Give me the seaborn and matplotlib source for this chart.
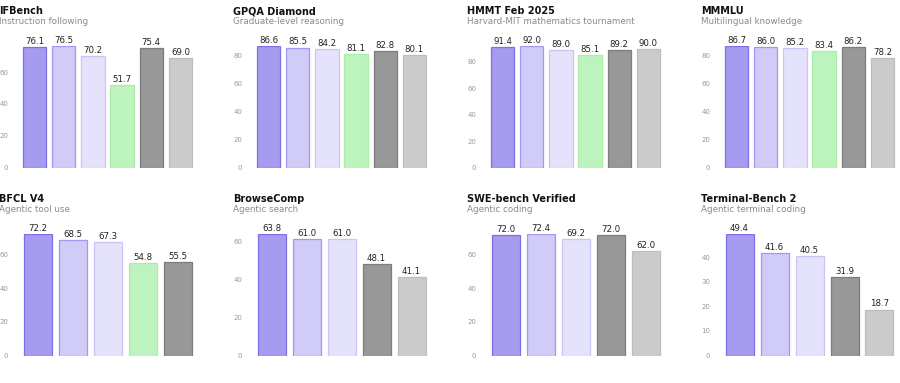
import pandas as pd
import matplotlib
matplotlib.use("Agg")
import matplotlib.pyplot as plt
from matplotlib.ticker import MaxNLocator
import seaborn as sns

# model order and colours (fill, edge)
models = ["Model A", "Model B", "Model C", "Model D", "Model E", "Model F"]
fill_colors = ["#a59bef", "#d0cbf7", "#e5e2fb", "#bdf3bd", "#989898", "#cbcbcb"]
edge_colors = ["#7f6fe6", "#a397f0", "#cbc4f7", "#aaeeaa", "#7c7c7c", "#bdbdbd"]

# benchmark titles / subtitles
titles = ["IFBench", "GPQA Diamond", "HMMT Feb 2025", "MMMLU",
          "BFCL V4", "BrowseComp", "SWE-bench Verified", "Terminal-Bench 2"]
subtitles = ["Instruction following", "Graduate-level reasoning",
             "Harvard-MIT mathematics tournament", "Multilingual knowledge",
             "Agentic tool use", "Agentic search", "Agentic coding",
             "Agentic terminal coding"]

# scores per benchmark (None = not reported)
ifbench = [76.1, 76.5, 70.2, 51.7, 75.4, 69.0]
gpqa = [86.6, 85.5, 84.2, 81.1, 82.8, 80.1]
hmmt = [91.4, 92.0, 89.0, 85.1, 89.2, 90.0]
mmmlu = [86.7, 86.0, 85.2, 83.4, 86.2, 78.2]
bfcl = [72.2, 68.5, 67.3, 54.8, 55.5, None]
browsecomp = [63.8, 61.0, 61.0, None, 48.1, 41.1]
swe_bench = [72.0, 72.4, 69.2, None, 72.0, 62.0]
terminal_bench = [49.4, 41.6, 40.5, None, 31.9, 18.7]

scores = [ifbench, gpqa, hmmt, mmmlu, bfcl, browsecomp, swe_bench, terminal_bench]

W, H = 900, 383
sns.set_style("white")
plt.rcParams["font.family"] = ["DejaVu Sans"]

fig = plt.figure(figsize=(W / 100, H / 100), dpi=100)

col_left = [20, 254, 488, 722]
row_bottom = [167.5, 355.5]
ax_w, ax_h = 175, 121.5

palette = dict(zip(models, fill_colors))
edges = dict(zip(models, edge_colors))

for i, (vals, title, sub) in enumerate(zip(scores, titles, subtitles)):
    r, c = divmod(i, 4)
    left = col_left[c]
    bottom = row_bottom[r]
    ax = fig.add_axes([left / W, (H - bottom) / H, ax_w / W, ax_h / H])

    df = pd.DataFrame({"model": models, "score": vals}).dropna()
    present = list(df["model"])
    sns.barplot(data=df, x="model", y="score", hue="model", order=present,
                hue_order=present, palette=palette, saturation=1, width=0.8,
                legend=False, ax=ax)
    for patch, m in zip(ax.patches, present):
        patch.set_edgecolor(edges[m])
        patch.set_linewidth(0.9)

    ax.set_ylim(0, df["score"].max())
    ax.yaxis.set_major_locator(MaxNLocator(nbins=5, steps=[1, 2, 2.5, 5, 10]))
    ax.set_xlabel("")
    ax.set_ylabel("")
    ax.set_xticks([])
    ax.tick_params(axis="y", length=0, labelsize=5, labelcolor="#999999", pad=8.5)
    sns.despine(ax=ax, left=True, bottom=True)

    for j, v in enumerate(df["score"]):
        ax.annotate(f"{v:.1f}", xy=(j, v), xytext=(0, 2.2),
                    textcoords="offset points", ha="center", va="baseline",
                    fontsize=6.2, color="#222222", annotation_clip=False)

    top = bottom - ax_h
    fig.text((left - 21) / W, (H - (top - 32)) / H, title, fontsize=7,
             fontweight="bold", color="#111111", va="baseline", ha="left")
    fig.text((left - 21) / W, (H - (top - 22)) / H, sub, fontsize=6.3,
             color="#8a8a8a", va="baseline", ha="left")

fig.savefig("out.png", dpi=100)
